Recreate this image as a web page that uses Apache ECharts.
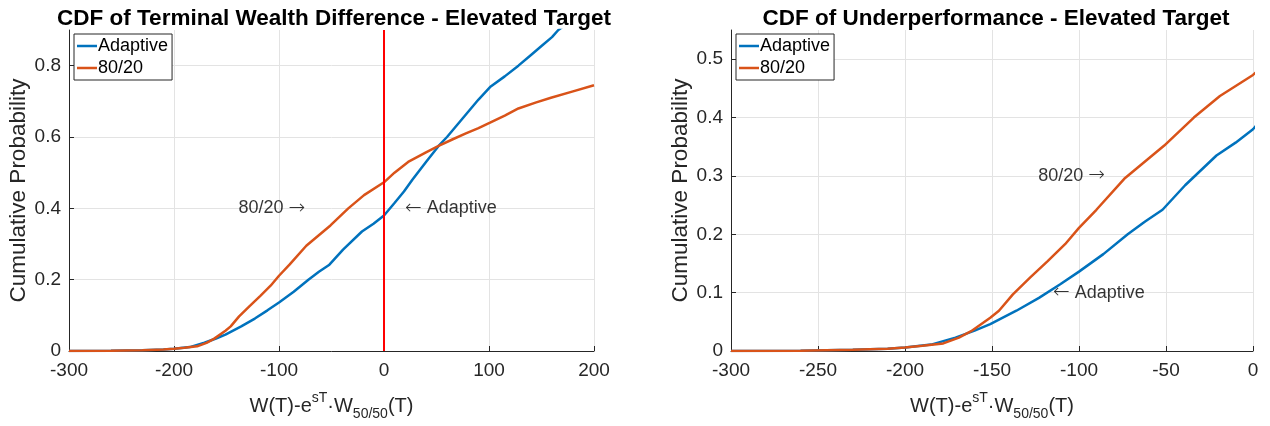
<!DOCTYPE html>
<html>
<head>
<meta charset="utf-8">
<script src="https://cdn.jsdelivr.net/npm/echarts@6/dist/echarts.min.js"></script>
<style>
  html, body { margin: 0; padding: 0; background: #fff; }
  #chart { width: 1270px; height: 426px; }
</style>
</head>
<body>
<div id="chart"></div>
<script>
// CDF curves (x = wealth difference, y = cumulative probability)
const adaptiveX = [-300, -260, -230, -210, -200, -185, -171, -160, -151, -136, -123, -111, -100, -86, -72, -62, -52, -39, -21, -10, 0, 10, 19, 27, 40, 52, 60, 70, 80, 90, 101, 115, 128, 140, 150, 160, 166, 185];
const adaptiveY = [0, 0.0005, 0.002, 0.004, 0.006, 0.011, 0.023, 0.035, 0.046, 0.069, 0.091, 0.114, 0.136, 0.166, 0.2, 0.222, 0.242, 0.284, 0.335, 0.357, 0.38, 0.415, 0.447, 0.48, 0.53, 0.575, 0.6, 0.635, 0.67, 0.705, 0.74, 0.77, 0.8, 0.83, 0.855, 0.88, 0.9, 0.94];
const mixX = [-300, -260, -230, -210, -200, -190, -178, -169, -162, -151, -146, -138, -128, -118, -108, -100, -90, -74, -51, -34, -19, 0, 10, 23, 40, 52, 65, 78, 90, 101, 115, 128, 145, 159, 180, 200];
const mixY = [0, 0.0005, 0.002, 0.004, 0.006, 0.009, 0.013, 0.023, 0.034, 0.057, 0.069, 0.097, 0.126, 0.154, 0.183, 0.211, 0.242, 0.295, 0.352, 0.4, 0.437, 0.473, 0.5, 0.53, 0.557, 0.575, 0.593, 0.61, 0.625, 0.64, 0.66, 0.68, 0.697, 0.71, 0.728, 0.745];

const titles = ['CDF of Terminal Wealth Difference - Elevated Target', 'CDF of Underperformance - Elevated Target'];
const seriesNames = ['Adaptive', '80/20'];
// text notes: [x, y, text, side]
const notesLeft = [[-75, 0.4, '80/20 {a|\u2192}', 'left'], [20, 0.4, '{a|\u2190} Adaptive', 'right']];
const notesRight = [[-85, 0.3, '80/20 {a|\u2192}', 'left'], [-115, 0.1, '{a|\u2190} Adaptive', 'right']];

const FONT = '"Liberation Sans", Arial, Helvetica, sans-serif';
const AX = '#262626';
const BLUE = '#0072BD';
const ORANGE = '#D95319';

function zip(xs, ys) {
  return xs.map((x, i) => [x, ys[i]]);
}

function xAxisOf(idx, min, max, interval) {
  return {
    type: 'value', gridIndex: idx, min: min, max: max, interval: interval,
    name: 'W(T)-e{sup|sT}\u00b7W{sub|50/50}(T)',
    nameLocation: 'middle', nameGap: 40,
    nameTextStyle: {
      fontFamily: FONT, fontSize: 20, color: AX, lineHeight: 30,
      rich: {
        sup: { fontFamily: FONT, fontSize: 14, color: AX, verticalAlign: 'top', lineHeight: 14 },
        sub: { fontFamily: FONT, fontSize: 14, color: AX, verticalAlign: 'bottom', lineHeight: 12 }
      }
    },
    axisLine: { onZero: false, lineStyle: { color: AX, width: 1 } },
    axisTick: { inside: true, length: 5, lineStyle: { color: AX } },
    axisLabel: { fontFamily: FONT, fontSize: 19, color: AX, margin: 10 },
    splitLine: { show: true, lineStyle: { color: '#e3e3e3', width: 1 } }
  };
}

function yAxisOf(idx, max, interval) {
  return {
    type: 'value', gridIndex: idx, min: 0, max: max, interval: interval,
    name: 'Cumulative Probability', nameLocation: 'middle', nameGap: 39,
    nameTextStyle: { fontFamily: FONT, fontSize: 22.5, color: AX },
    axisLine: { show: true, onZero: false, lineStyle: { color: AX, width: 1 } },
    axisTick: { show: true, inside: true, length: 5, lineStyle: { color: AX } },
    axisLabel: { fontFamily: FONT, fontSize: 19, color: AX, margin: 8, showMaxLabel: false },
    splitLine: { show: true, showMaxLine: false, lineStyle: { color: '#e3e3e3', width: 1 } }
  };
}

function curve(name, idx, data, color) {
  return {
    name: name, type: 'line', xAxisIndex: idx, yAxisIndex: idx,
    data: data, symbol: 'none', clip: true, animation: false,
    lineStyle: { color: color, width: 2.5 }, itemStyle: { color: color }
  };
}

function notes(idx, list) {
  return {
    type: 'scatter', xAxisIndex: idx, yAxisIndex: idx, symbolSize: 0, silent: true,
    animation: false,
    data: list.map(n => ({
      value: [n[0], n[1]],
      label: { show: true, position: n[3], distance: 0, formatter: n[2] }
    })),
    label: {
      fontFamily: FONT, fontSize: 18, color: '#000',
      rich: { a: { fontFamily: '"DejaVu Sans", sans-serif', fontSize: 20, fontWeight: 200, color: '#000' } }
    }
  };
}

function legendOf(left) {
  return {
    data: seriesNames.map(n => ({ name: n, icon: 'rect' })),
    orient: 'vertical', left: left, top: 34,
    backgroundColor: '#fff', borderColor: AX, borderWidth: 1,
    padding: [3, 4, 3, 3], itemGap: 4, itemWidth: 20, itemHeight: 2.5,
    textStyle: { fontFamily: FONT, fontSize: 18, color: '#000', padding: [0, 0, 0, -4], lineHeight: 18 },
    selectedMode: false
  };
}

const adaptiveData = zip(adaptiveX, adaptiveY);
const mixData = zip(mixX, mixY);

const option = {
  animation: false,
  backgroundColor: '#fff',
  title: [
    { text: titles[0], left: 329, top: 2, textAlign: 'center',
      textStyle: { fontFamily: FONT, fontSize: 22.5, fontWeight: 'bold', color: '#000' } },
    { text: titles[1], left: 991, top: 2, textAlign: 'center',
      textStyle: { fontFamily: FONT, fontSize: 22.5, fontWeight: 'bold', color: '#000' } }
  ],
  legend: [legendOf(74), legendOf(736)],
  grid: [
    { left: 69, right: 676, top: 30, bottom: 73 },
    { left: 731, right: 17, top: 30, bottom: 73 }
  ],
  xAxis: [xAxisOf(0, -300, 200, 100), xAxisOf(1, -300, 0, 50)],
  yAxis: [yAxisOf(0, 0.9, 0.2), yAxisOf(1, 0.55, 0.1)],
  series: [
    Object.assign(curve('Adaptive', 0, adaptiveData, BLUE), {
      markLine: {
        symbol: 'none', silent: true, animation: false, label: { show: false },
        lineStyle: { color: '#FF0000', width: 2, type: 'solid' },
        data: [{ xAxis: 0 }]
      }
    }),
    curve('80/20', 0, mixData, ORANGE),
    curve('Adaptive', 1, adaptiveData, BLUE),
    curve('80/20', 1, mixData, ORANGE),
    notes(0, notesLeft),
    notes(1, notesRight)
  ]
};

const chart = echarts.init(document.getElementById('chart'), null, { renderer: 'canvas' });
chart.setOption(option);
</script>
</body>
</html>
